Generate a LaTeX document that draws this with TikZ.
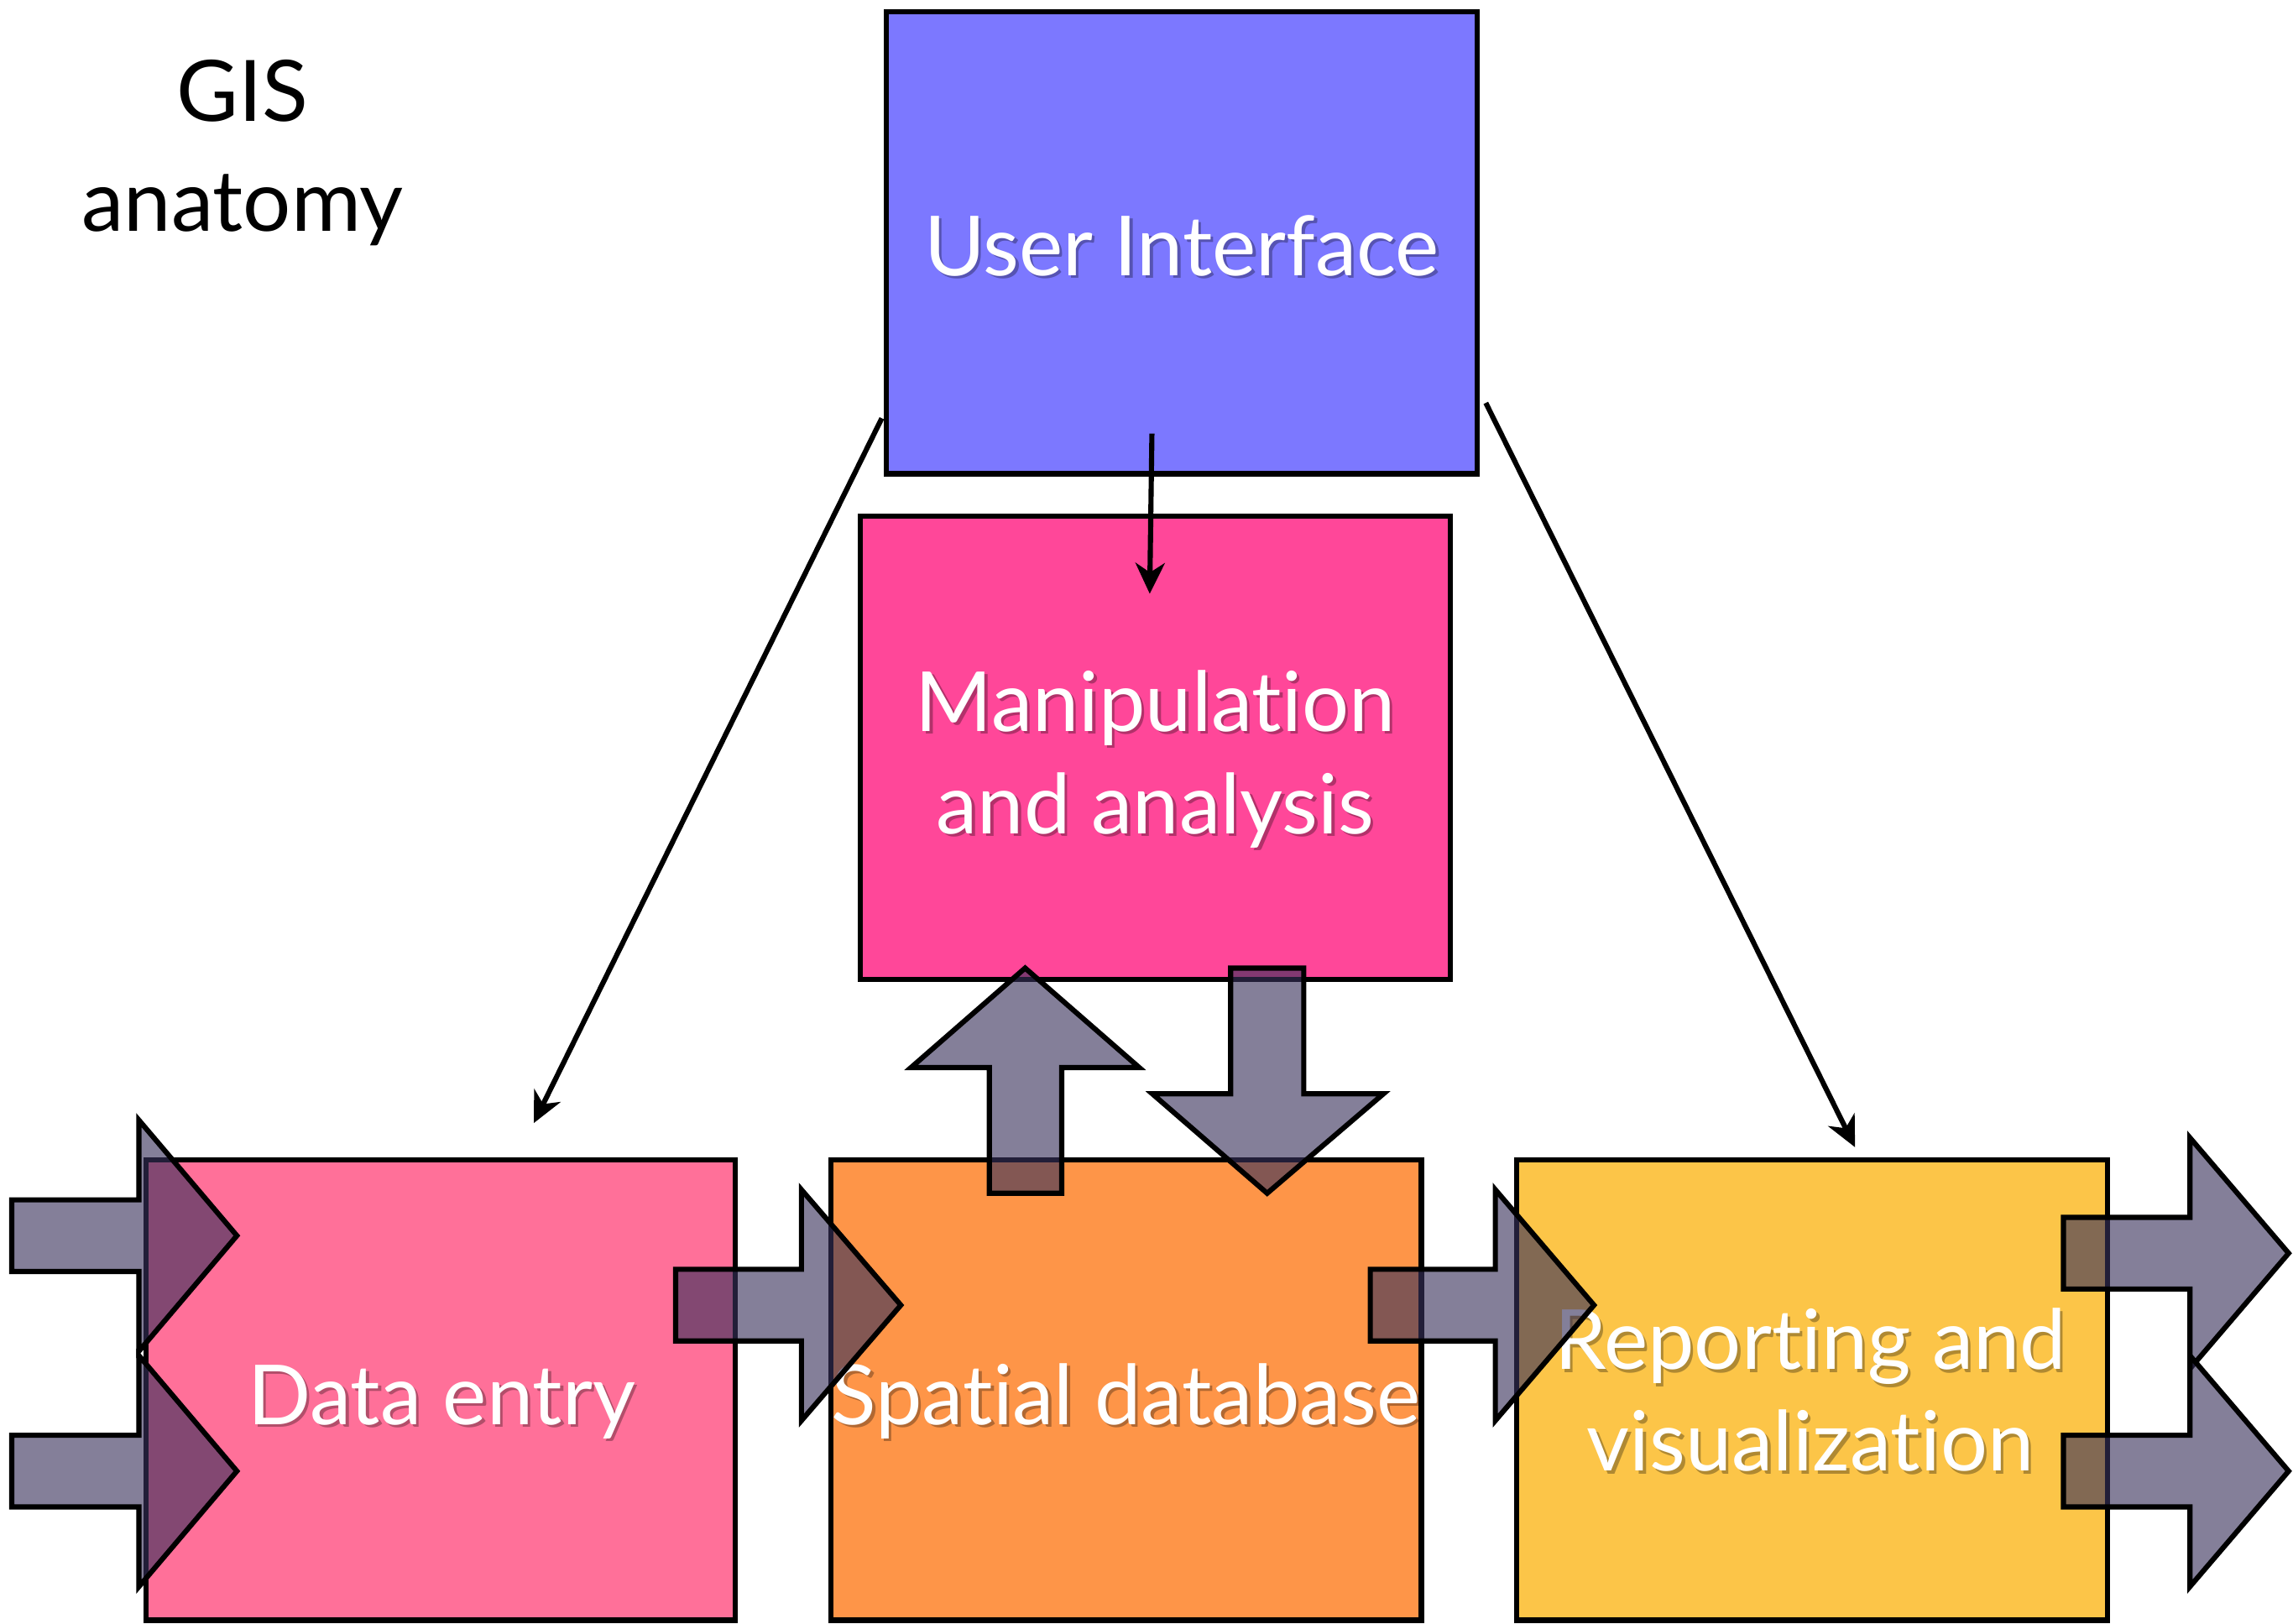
\documentclass[tikz,border=0pt]{standalone}
\usepackage{fontspec}
\setmainfont{Lato}[Ligatures=NoCommon]
\usetikzlibrary{arrows.meta}
\definecolor{uicol}{RGB}{124,120,255}
\definecolor{mancol}{RGB}{255,71,153}
\definecolor{datacol}{RGB}{255,112,153}
\definecolor{spacol}{RGB}{254,149,72}
\definecolor{repcol}{RGB}{252,197,72}
\definecolor{arrcol}{RGB}{56,49,91}
\tikzset{
  box/.style={draw=black, line width=2pt, inner sep=0pt},
  blk/.style={draw=black, line width=2pt, fill=arrcol, fill opacity=0.62, line join=miter},
  lbl/.style={text=white, font=\fontsize{32.3}{40}\selectfont, anchor=base, inner sep=0pt},
  shd/.style={text=black, text opacity=0.3, font=\fontsize{32.3}{40}\selectfont, anchor=base, inner sep=0pt},
  ttl/.style={text=black, font=\fontsize{33}{40}\selectfont, anchor=base, inner sep=0pt},
  conn/.style={line width=2pt, -{Stealth[length=0.42cm, width=0.4cm, inset=0.13cm]}},
}
\newcommand\rblk[4]{\draw[blk] (#1,{#4-24.5}) -- (#2,{#4-24.5}) -- (#2,{#4-79}) -- (#3,#4) -- (#2,{#4+79}) -- (#2,{#4+24.5}) -- (#1,{#4+24.5}) -- cycle;}
\newcommand\shtext[4]{\node[shd] (#1s) at ({#2+2},{#3+2}) {#4};\node[lbl] (#1) at (#2,#3) {#4};}
\begin{document}
\begin{tikzpicture}[x=0.02cm, y=-0.02cm]
\useasboundingbox (0,0) rectangle (1568,1110);
% title
\node[ttl] (gis) at (166,83) {GIS};
\node[ttl] (anat) at (166,158) {anatomy};
% boxes
\node[box, fill=uicol, minimum width=8.08cm, minimum height=6.32cm] (ui) at (808,166) {};
\node[box, fill=mancol, minimum width=8.08cm, minimum height=6.34cm] (man) at (790,511.5) {};
\node[box, fill=datacol, minimum width=8.06cm, minimum height=6.3cm] (data) at (301.5,950.5) {};
\node[box, fill=spacol, minimum width=8.08cm, minimum height=6.3cm] (spa) at (770,950.5) {};
\node[box, fill=repcol, minimum width=8.08cm, minimum height=6.3cm] (rep) at (1239,950.5) {};
% labels
\shtext{tui}{808}{188.5}{User Interface}
\shtext{tman}{790}{500}{Manipulation}
\shtext{tman2}{790}{570}{and analysis}
\shtext{tdata}{302}{974}{Data entry}
\shtext{tspa}{770}{974}{Spatial database}
\shtext{trep}{1238}{936.5}{Reporting and}
\shtext{trep2}{1238}{1006}{visualization}
% thin connectors
\coordinate (s1) at (603,286); \coordinate (e1) at (365,768);
\coordinate (s2) at (787.7,296.5); \coordinate (e2) at (786.2,406);
\coordinate (s3) at (1016,275.5); \coordinate (e3) at (1268.5,784.5);
\draw[conn] (s1) -- (e1);
\draw[conn] (s2) -- (e2);
\draw[conn] (s3) -- (e3);
% block arrows
\rblk{8}{95}{162}{845}
\rblk{8}{95}{162}{1006}
\rblk{462}{548}{616}{892.5}
\rblk{937}{1022.5}{1090}{892.5}
\rblk{1411}{1497.5}{1565}{857}
\rblk{1411}{1497.5}{1565}{1006}
\draw[blk] (676.5,816) -- (676.5,730) -- (623,730) -- (701,662) -- (779,730) -- (726,730) -- (726,816) -- cycle;
\draw[blk] (841.5,662) -- (841.5,748) -- (788,748) -- (866.5,816) -- (946,748) -- (891.5,748) -- (891.5,662) -- cycle;
\end{tikzpicture}
\end{document}
